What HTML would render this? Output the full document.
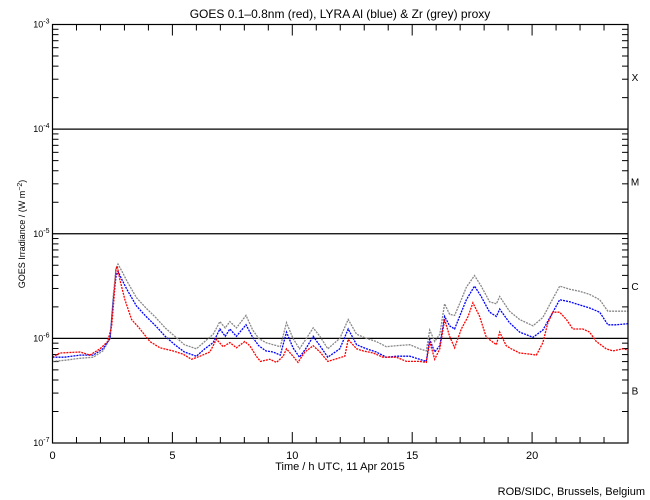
<!DOCTYPE html>
<html><head><meta charset="utf-8">
<style>
html,body{margin:0;padding:0;background:#fff;}
svg{display:block;font-family:"Liberation Sans",sans-serif;}
</style></head>
<body>
<svg id="chart" width="650" height="500" viewBox="0 0 650 500">
<rect width="650" height="500" fill="#fff"/>
<text x="340" y="18" font-size="12" text-anchor="middle">GOES 0.1–0.8nm (red), LYRA Al (blue) &amp; Zr (grey) proxy</text>
<text x="340" y="470" font-size="11" text-anchor="middle">Time / h UTC, 11 Apr 2015</text>
<text x="0" y="0" font-size="9" text-anchor="middle" transform="translate(25,234) rotate(-90)">GOES Irradiance / (W m<tspan dy="-3" font-size="7">−2</tspan><tspan dy="3">)</tspan></text>
<text x="645" y="495" font-size="11" text-anchor="end">ROB/SIDC, Brussels, Belgium</text>
<g id="grid"></g>
<g id="series"></g>
<rect x="52.5" y="24.5" width="575.5" height="418.5" fill="none" stroke="#000" stroke-width="1.2"/>
</svg>
<script>
const xTicks=[0,5,10,15,20];
const yDecades=[-3,-4,-5,-6,-7];
const classLabels=['X','M','C','B'];
const classLogs=[-3.5,-4.5,-5.5,-6.5];
const redT=[0,0.31,1.15,1.56,1.98,2.3,2.47,2.56,2.65,2.7,2.81,3.02,3.3,3.65,4.06,4.48,5.02,5.44,5.8,6.15,6.56,6.84,7.12,7.4,7.67,8.02,8.23,8.5,8.67,9.06,9.34,9.62,9.76,10.03,10.24,10.52,10.87,11.15,11.48,12.19,12.33,12.68,12.95,13.37,13.78,14.34,14.76,15.31,15.59,15.73,15.94,16.15,16.35,16.56,16.77,17.05,17.33,17.53,17.81,18.09,18.51,18.65,18.92,19.13,19.48,19.9,20.18,20.45,20.66,20.87,21.15,21.43,21.7,22.12,22.4,22.68,23.09,23.37,23.78,24];
const redV=[-6.18,-6.14,-6.13,-6.16,-6.1,-6.03,-5.88,-5.63,-5.34,-5.31,-5.44,-5.63,-5.82,-5.91,-6.03,-6.09,-6.12,-6.15,-6.2,-6.17,-6.13,-6.01,-6.08,-6.04,-6.09,-6.03,-6.07,-6.17,-6.22,-6.2,-6.23,-6.17,-6.1,-6.17,-6.23,-6.13,-6.07,-6.13,-6.22,-6.17,-6.01,-6.1,-6.12,-6.14,-6.18,-6.18,-6.22,-6.22,-6.23,-6.03,-6.2,-6.1,-5.82,-5.98,-6.09,-5.91,-5.79,-5.66,-5.79,-5.99,-6.06,-5.94,-6.07,-6.1,-6.14,-6.15,-6.16,-6.04,-5.85,-5.75,-5.75,-5.82,-5.91,-5.91,-5.94,-6.03,-6.1,-6.12,-6.1,-6.11];
const blueT=[0,0.5,1.15,1.7,2.1,2.4,2.54,2.65,2.73,2.9,3.1,3.5,3.9,4.3,4.7,5.1,5.5,6.0,6.35,6.7,6.98,7.2,7.4,7.67,8.07,8.35,8.6,8.9,9.2,9.5,9.76,10.03,10.3,10.59,10.87,11.15,11.48,11.98,12.33,12.68,13.09,13.5,13.92,14.34,14.9,15.31,15.59,15.73,15.94,16.15,16.35,16.56,16.77,17.05,17.26,17.6,17.88,18.23,18.51,18.65,19.06,19.48,20.04,20.45,20.87,21.15,21.57,21.98,22.4,22.82,23.16,23.5,24];
const blueV=[-6.18,-6.18,-6.16,-6.16,-6.1,-6.0,-5.63,-5.41,-5.36,-5.44,-5.53,-5.69,-5.79,-5.88,-5.98,-6.06,-6.13,-6.17,-6.1,-6.04,-5.91,-5.98,-5.91,-5.98,-5.87,-5.99,-6.07,-6.12,-6.13,-6.16,-5.94,-6.09,-6.18,-6.09,-5.98,-6.07,-6.18,-6.1,-5.91,-6.06,-6.1,-6.13,-6.18,-6.17,-6.17,-6.2,-6.22,-6.01,-6.13,-6.07,-5.79,-5.88,-5.91,-5.75,-5.63,-5.5,-5.6,-5.75,-5.79,-5.72,-5.85,-5.94,-5.99,-5.92,-5.75,-5.63,-5.65,-5.68,-5.71,-5.75,-5.87,-5.87,-5.86];
const greyV=[-6.22,-6.21,-6.19,-6.18,-6.12,-6.0,-5.58,-5.33,-5.29,-5.36,-5.45,-5.61,-5.71,-5.8,-5.9,-5.98,-6.06,-6.1,-6.03,-5.96,-5.84,-5.9,-5.84,-5.9,-5.78,-5.92,-6.0,-6.04,-6.06,-6.08,-5.85,-6.0,-6.1,-6.0,-5.9,-5.98,-6.1,-6.0,-5.82,-5.96,-6.0,-6.03,-6.08,-6.07,-6.06,-6.1,-6.12,-5.92,-6.03,-5.96,-5.67,-5.77,-5.78,-5.63,-5.51,-5.4,-5.5,-5.65,-5.67,-5.6,-5.74,-5.82,-5.88,-5.8,-5.62,-5.5,-5.53,-5.55,-5.58,-5.63,-5.74,-5.74,-5.74];

const X0=52.5,X1=628,Y0=24.5,Y1=443;
const xs=t=>X0+(X1-X0)*t/24;
const ys=l=>Y0+(Y1-Y0)*(-3-l)/4;
const NS='http://www.w3.org/2000/svg';
function mk(tag,attrs,parent){const e=document.createElementNS(NS,tag);for(const k in attrs)e.setAttribute(k,attrs[k]);parent.appendChild(e);return e;}
const g=document.getElementById('grid');
for(let h=0;h<=24;h++){
  const len=h%5===0?11:6;const x=xs(h);
  const tb=mk('line',{x1:x,x2:x,y1:Y1,y2:Y1-len,stroke:'#000'},g);
  
  
  const tt=mk('line',{x1:x,x2:x,y1:Y0,y2:Y0+len,stroke:'#000'},g);
  
  
}
xTicks.forEach(h=>{
  const t=mk('text',{x:xs(h),y:Y1+16,'font-size':11,'text-anchor':'middle'},g);t.textContent=h;
  
  
});
yDecades.forEach(d=>{
  const y=ys(d);
  if(d>-7&&d<-3){const l=mk('line',{x1:X0,x2:X1,y1:y,y2:y,stroke:'#000','stroke-width':1.2},g);
    
    }
  const t=mk('text',{x:X0-3,y:y+3,'font-size':9,'text-anchor':'end'},g);
  t.innerHTML='10<tspan dy="-4" font-size="7">'+d+'</tspan>';
  
  
  if(d>-7){for(let m=2;m<=9;m++){const yy=ys(d-1+Math.log10(m));
    const a=mk('line',{x1:X0,x2:X0+6,y1:yy,y2:yy,stroke:'#000'},g);
    
    
    const b=mk('line',{x1:X1,x2:X1-6,y1:yy,y2:yy,stroke:'#000'},g);
    
    }}
});
classLabels.forEach((c,i)=>{
  const t=mk('text',{x:635,y:ys(classLogs[i])+4,'font-size':10,'text-anchor':'middle'},g);t.textContent=c;
  
  
});
const s=document.getElementById('series');
function line(T,V,color,name){
  const p=mk('polyline',{points:T.map((t,i)=>xs(t).toFixed(1)+','+ys(V[i]).toFixed(1)).join(' '),fill:'none',stroke:color,'stroke-width':1.3,'stroke-dasharray':'2 1'},s);
  
  
}
line(blueT,greyV,'#888','zr-grey-series');
line(blueT,blueV,'#0000ff','al-blue-series');
line(redT,redV,'#ff0000','goes-red-series');
</script>
</body></html>
